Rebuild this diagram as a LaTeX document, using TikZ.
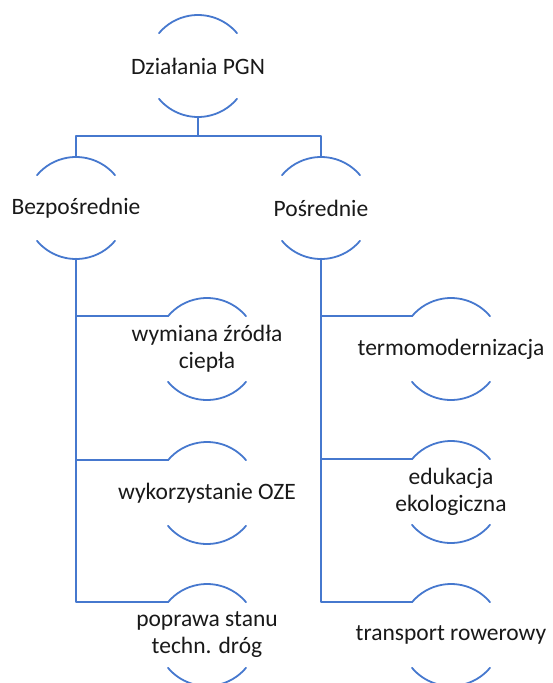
\documentclass[tikz,border=0pt]{standalone}
\usepackage{fontspec}
\setmainfont{Carlito}
\definecolor{pgnblue}{RGB}{70,120,206}
\definecolor{pgntext}{RGB}{25,25,25}
\begin{document}
\begin{tikzpicture}[x=1pt, y=1pt, line join=round, line cap=round,
	blob/.style={circle, minimum size=102pt, inner sep=0pt, outer sep=0pt},
	txt/.style={align=center, text=pgntext, font=\fontsize{23.5}{27}\selectfont, inner sep=0pt},
	link/.style={draw=pgnblue, line width=2.2pt},
	rim/.style={draw=pgnblue, line width=1.8pt}]
	\useasboundingbox (0,0) rectangle (552,-683);
	\path
	(198,-66) node[blob, label={[txt]center:Działania PGN}] (pgn) {}
	(76,-208) node[blob, label={[txt]center:Bezpośrednie}] (bez) {}
	(321,-208) node[blob, label={[txt]center:Pośrednie}] (pos) {}
	(207,-349) node[blob, label={[txt]center:wymiana źródła\\ciepła}] (wym) {}
	(207,-493) node[blob, label={[txt]center:wykorzystanie OZE}] (oze) {}
	(207,-635) node[blob, label={[txt]center:poprawa stanu\\techn. dróg}] (drog) {}
	(451,-349) node[blob, label={[txt]center:termomodernizacja}] (termo) {}
	(451,-492) node[blob, label={[txt]center:edukacja\\ekologiczna}] (edu) {}
	(451,-635) node[blob, label={[txt]center:transport rowerowy}] (rower) {};
	\foreach \n in {pgn,bez,pos,wym,oze,drog,termo,edu,rower}
	\draw[rim] (\n.40) arc[start angle=40, end angle=140, radius=51pt]
	(\n.-140) arc[start angle=-140, end angle=-40, radius=51pt];
	\draw[link] (pgn.south) -- ++(0,-19) coordinate (fork) -| (bez.north) (fork) -| (pos.north);
	\foreach \d/\s in {bez/wym,bez/oze,bez/drog,pos/termo,pos/edu,pos/rower} \draw[link] (\d.south) |- (\s.140);
\end{tikzpicture}
\end{document}
